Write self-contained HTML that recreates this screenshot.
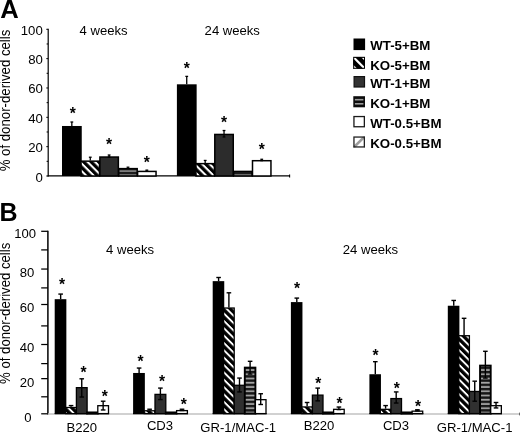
<!DOCTYPE html>
<html lang="en"><head><meta charset="utf-8"><title>Figure</title>
<style>
html,body{margin:0;padding:0;background:#fff;}
body{width:520px;height:433px;overflow:hidden;}
svg{display:block;will-change:transform;}
</style></head><body>
<svg width="520" height="433" viewBox="0 0 520 433" font-family="Liberation Sans, Arial, Helvetica, sans-serif" fill="#000">
<defs>
<pattern id="hatchA" width="5.3" height="5.3" patternUnits="userSpaceOnUse" patternTransform="translate(2,0) rotate(45)">
<rect width="5.3" height="5.3" fill="#000"/><rect width="5.3" height="2.05" fill="#fff"/></pattern>
<pattern id="hatchB" width="5.2" height="5.2" patternUnits="userSpaceOnUse" patternTransform="rotate(45)">
<rect width="5.2" height="5.2" fill="#000"/><rect width="5.2" height="1.9" fill="#fff"/></pattern>
<pattern id="hstr" width="4" height="4.25" patternUnits="userSpaceOnUse" patternTransform="translate(0,1.2)">
<rect width="4" height="4.25" fill="#161616"/><rect y="2.4" width="4" height="1.75" fill="#a6a6a6"/></pattern>
<pattern id="hstrA" width="4" height="4" patternUnits="userSpaceOnUse">
<rect width="4" height="4" fill="#1c1c1c"/><rect y="2.2" width="4" height="1.8" fill="#7c7c7c"/></pattern>
<pattern id="lhatch" width="4.5" height="4.5" patternUnits="userSpaceOnUse" patternTransform="rotate(-45)">
<rect width="4.5" height="4.5" fill="#fff"/><rect width="4.5" height="2" fill="#b0b0b0"/></pattern>
<clipPath id="sw2"><rect x="353.2" y="56.9" width="11.8" height="11.9"/></clipPath>
</defs>
<rect x="0.00" y="0.00" width="520.00" height="433.00" fill="#fff"/>
<text x="0.30" y="17.90" font-size="25.6" text-anchor="start" font-weight="bold" >A</text>
<text x="-0.60" y="220.60" font-size="25" text-anchor="start" font-weight="bold" >B</text>
<line x1="48.20" y1="28.80" x2="48.20" y2="176.50" stroke="#000" stroke-width="1.2"/>
<line x1="47.60" y1="175.80" x2="289.80" y2="175.80" stroke="#000" stroke-width="1.2"/>
<line x1="289.60" y1="174.50" x2="289.60" y2="177.50" stroke="#000" stroke-width="1.1"/>
<line x1="46.30" y1="176.00" x2="48.20" y2="176.00" stroke="#000" stroke-width="1.0"/>
<line x1="46.60" y1="161.33" x2="48.20" y2="161.33" stroke="#000" stroke-width="1.0"/>
<line x1="46.30" y1="146.66" x2="48.20" y2="146.66" stroke="#000" stroke-width="1.0"/>
<line x1="46.60" y1="131.99" x2="48.20" y2="131.99" stroke="#000" stroke-width="1.0"/>
<line x1="46.30" y1="117.32" x2="48.20" y2="117.32" stroke="#000" stroke-width="1.0"/>
<line x1="46.60" y1="102.65" x2="48.20" y2="102.65" stroke="#000" stroke-width="1.0"/>
<line x1="46.30" y1="87.98" x2="48.20" y2="87.98" stroke="#000" stroke-width="1.0"/>
<line x1="46.60" y1="73.31" x2="48.20" y2="73.31" stroke="#000" stroke-width="1.0"/>
<line x1="46.30" y1="58.64" x2="48.20" y2="58.64" stroke="#000" stroke-width="1.0"/>
<line x1="46.60" y1="43.97" x2="48.20" y2="43.97" stroke="#000" stroke-width="1.0"/>
<line x1="46.30" y1="29.30" x2="48.20" y2="29.30" stroke="#000" stroke-width="1.0"/>
<text x="42.80" y="181.50" font-size="13.2" text-anchor="end" font-weight="normal" >0</text>
<text x="42.80" y="152.16" font-size="13.2" text-anchor="end" font-weight="normal" >20</text>
<text x="42.80" y="122.82" font-size="13.2" text-anchor="end" font-weight="normal" >40</text>
<text x="42.80" y="93.48" font-size="13.2" text-anchor="end" font-weight="normal" >60</text>
<text x="42.80" y="64.14" font-size="13.2" text-anchor="end" font-weight="normal" >80</text>
<text x="42.80" y="34.80" font-size="13.2" text-anchor="end" font-weight="normal" >100</text>
<text transform="translate(9.9,171.3) rotate(-90) scale(1,1.12)" font-size="13.22">% of donor-derived cells</text>
<text x="79.60" y="35.30" font-size="13.1" text-anchor="start" font-weight="normal" >4 weeks</text>
<text x="204.60" y="35.30" font-size="13.1" text-anchor="start" font-weight="normal" >24 weeks</text>
<rect x="62.00" y="125.98" width="19.75" height="50.02" fill="#000"/>
<rect x="81.05" y="161.15" width="18.45" height="14.85" fill="url(#hatchA)" stroke="#000" stroke-width="1.5"/>
<rect x="99.90" y="157.04" width="18.45" height="18.96" fill="#2c2c2c" stroke="#000" stroke-width="1.5"/>
<rect x="118.75" y="168.63" width="18.45" height="7.37" fill="url(#hstrA)" stroke="#000" stroke-width="1.5"/>
<rect x="137.60" y="171.42" width="18.45" height="4.58" fill="#fff" stroke="#000" stroke-width="1.5"/>
<line x1="71.83" y1="122.01" x2="71.83" y2="125.98" stroke="#000" stroke-width="1.3"/>
<line x1="70.42" y1="122.01" x2="73.23" y2="122.01" stroke="#000" stroke-width="1.3"/>
<line x1="90.27" y1="157.22" x2="90.27" y2="160.45" stroke="#000" stroke-width="1.3"/>
<line x1="88.87" y1="157.22" x2="91.67" y2="157.22" stroke="#000" stroke-width="1.3"/>
<line x1="109.12" y1="155.02" x2="109.12" y2="157.08" stroke="#000" stroke-width="1.3"/>
<line x1="107.72" y1="155.02" x2="110.53" y2="155.02" stroke="#000" stroke-width="1.3"/>
<line x1="107.72" y1="157.08" x2="110.53" y2="157.08" stroke="#000" stroke-width="1.3"/>
<line x1="127.98" y1="167.20" x2="127.98" y2="167.93" stroke="#000" stroke-width="1.3"/>
<line x1="126.58" y1="167.20" x2="129.38" y2="167.20" stroke="#000" stroke-width="1.3"/>
<line x1="146.83" y1="170.13" x2="146.83" y2="171.16" stroke="#000" stroke-width="1.3"/>
<line x1="145.43" y1="170.13" x2="148.23" y2="170.13" stroke="#000" stroke-width="1.3"/>
<line x1="145.43" y1="171.16" x2="148.23" y2="171.16" stroke="#000" stroke-width="1.3"/>
<text x="72.83" y="119.35" font-size="15.6" text-anchor="middle" font-weight="bold">*</text>
<text x="109.12" y="150.35" font-size="15.6" text-anchor="middle" font-weight="bold">*</text>
<text x="146.83" y="167.95" font-size="15.6" text-anchor="middle" font-weight="bold">*</text>
<rect x="176.90" y="84.31" width="19.75" height="91.69" fill="#000"/>
<rect x="195.95" y="163.64" width="18.45" height="12.36" fill="url(#hatchA)" stroke="#000" stroke-width="1.5"/>
<rect x="214.80" y="134.45" width="18.45" height="41.55" fill="#2c2c2c" stroke="#000" stroke-width="1.5"/>
<rect x="233.65" y="171.42" width="18.45" height="4.58" fill="url(#hstrA)" stroke="#000" stroke-width="1.5"/>
<rect x="252.50" y="160.71" width="18.45" height="15.29" fill="#fff" stroke="#000" stroke-width="1.5"/>
<line x1="186.73" y1="76.39" x2="186.73" y2="84.31" stroke="#000" stroke-width="1.3"/>
<line x1="185.33" y1="76.39" x2="188.13" y2="76.39" stroke="#000" stroke-width="1.3"/>
<line x1="205.18" y1="160.45" x2="205.18" y2="162.94" stroke="#000" stroke-width="1.3"/>
<line x1="203.78" y1="160.45" x2="206.58" y2="160.45" stroke="#000" stroke-width="1.3"/>
<line x1="224.03" y1="130.52" x2="224.03" y2="136.98" stroke="#000" stroke-width="1.3"/>
<line x1="222.63" y1="130.52" x2="225.43" y2="130.52" stroke="#000" stroke-width="1.3"/>
<line x1="222.63" y1="136.98" x2="225.43" y2="136.98" stroke="#000" stroke-width="1.3"/>
<line x1="261.73" y1="159.28" x2="261.73" y2="160.60" stroke="#000" stroke-width="1.3"/>
<line x1="260.33" y1="159.28" x2="263.12" y2="159.28" stroke="#000" stroke-width="1.3"/>
<line x1="260.33" y1="160.60" x2="263.12" y2="160.60" stroke="#000" stroke-width="1.3"/>
<text x="186.73" y="74.35" font-size="15.6" text-anchor="middle" font-weight="bold">*</text>
<text x="224.03" y="127.55" font-size="15.6" text-anchor="middle" font-weight="bold">*</text>
<text x="261.73" y="155.15" font-size="15.6" text-anchor="middle" font-weight="bold">*</text>
<rect x="353.50" y="38.50" width="11.60" height="11.60" fill="#000"/>
<text x="370.20" y="50.10" font-size="13.3" text-anchor="start" font-weight="bold" >WT-5+BM</text>
<rect x="353.20" y="56.90" width="11.80" height="11.90" fill="#000"/>
<g clip-path="url(#sw2)" stroke="#fff" stroke-width="2.2"><line x1="352.6" y1="56.3" x2="365.6" y2="69.4"/><line x1="357.2" y1="51.7" x2="370.2" y2="64.8"/><line x1="348.0" y1="60.9" x2="361.0" y2="74.0"/></g>
<rect x="353.70" y="57.40" width="10.80" height="10.90" fill="none" stroke="#000" stroke-width="1.0"/>
<text x="370.20" y="69.60" font-size="13.3" text-anchor="start" font-weight="bold" >KO-5+BM</text>
<rect x="354.10" y="76.60" width="10.40" height="10.40" fill="#333" stroke="#111" stroke-width="1.2"/>
<text x="370.20" y="87.60" font-size="13.3" text-anchor="start" font-weight="bold" >WT-1+BM</text>
<rect x="353.30" y="96.20" width="11.70" height="11.10" fill="#0c0c0c"/>
<rect x="354.90" y="98.90" width="8.50" height="1.60" fill="#9a9a9a"/>
<rect x="354.90" y="103.00" width="8.50" height="1.60" fill="#9a9a9a"/>
<text x="370.20" y="108.00" font-size="13.3" text-anchor="start" font-weight="bold" >KO-1+BM</text>
<rect x="353.95" y="116.55" width="10.40" height="10.20" fill="#fff" stroke="#1a1a1a" stroke-width="1.3"/>
<text x="370.20" y="127.70" font-size="13.3" text-anchor="start" font-weight="bold" >WT-0.5+BM</text>
<clipPath id="sw6"><rect x="353.3" y="136.4" width="11.7" height="11.2"/></clipPath>
<rect x="353.30" y="136.40" width="11.70" height="11.20" fill="#fff"/>
<g clip-path="url(#sw6)" stroke="#9c9c9c" stroke-width="2.6"><line x1="352" y1="149.2" x2="366" y2="135.2"/><line x1="358.2" y1="155.4" x2="372.2" y2="141.4"/></g>
<rect x="353.95" y="137.05" width="10.40" height="9.90" fill="none" stroke="#222" stroke-width="1.3"/>
<text x="370.20" y="148.20" font-size="13.3" text-anchor="start" font-weight="bold" >KO-0.5+BM</text>
<line x1="47.90" y1="230.70" x2="47.90" y2="414.40" stroke="#000" stroke-width="1.5"/>
<line x1="41.20" y1="413.80" x2="47.90" y2="413.80" stroke="#000" stroke-width="1.25"/>
<line x1="41.20" y1="396.80" x2="47.90" y2="396.80" stroke="#000" stroke-width="1.25"/>
<line x1="41.20" y1="378.65" x2="47.90" y2="378.65" stroke="#000" stroke-width="1.25"/>
<line x1="41.20" y1="363.60" x2="47.90" y2="363.60" stroke="#000" stroke-width="1.25"/>
<line x1="41.20" y1="344.50" x2="47.90" y2="344.50" stroke="#000" stroke-width="1.25"/>
<line x1="41.20" y1="325.90" x2="47.90" y2="325.90" stroke="#000" stroke-width="1.25"/>
<line x1="41.20" y1="304.50" x2="47.90" y2="304.50" stroke="#000" stroke-width="1.25"/>
<line x1="41.20" y1="287.90" x2="47.90" y2="287.90" stroke="#000" stroke-width="1.25"/>
<line x1="41.20" y1="269.05" x2="47.90" y2="269.05" stroke="#000" stroke-width="1.25"/>
<line x1="41.20" y1="249.90" x2="47.90" y2="249.90" stroke="#000" stroke-width="1.25"/>
<line x1="41.20" y1="231.30" x2="47.90" y2="231.30" stroke="#000" stroke-width="1.25"/>
<text x="36.00" y="238.45" font-size="13.1" text-anchor="end" font-weight="normal" >100</text>
<text x="34.30" y="277.35" font-size="13.1" text-anchor="end" font-weight="normal" >80</text>
<text x="34.30" y="311.75" font-size="13.1" text-anchor="end" font-weight="normal" >60</text>
<text x="34.30" y="352.05" font-size="13.1" text-anchor="end" font-weight="normal" >40</text>
<text x="34.30" y="386.95" font-size="13.1" text-anchor="end" font-weight="normal" >20</text>
<text x="31.60" y="421.55" font-size="13.1" text-anchor="end" font-weight="normal" >0</text>
<line x1="47.90" y1="414.00" x2="520.00" y2="414.00" stroke="#c2c2c2" stroke-width="1.3"/>
<text transform="translate(10.1,383.9) rotate(-90) scale(1,1.12)" font-size="13.17">% of donor-derived cells</text>
<text x="106.00" y="254.30" font-size="13.1" text-anchor="start" font-weight="normal" >4 weeks</text>
<text x="342.80" y="254.30" font-size="13.1" text-anchor="start" font-weight="normal" >24 weeks</text>
<line x1="54.70" y1="413.70" x2="109.10" y2="413.70" stroke="#000" stroke-width="1.2"/>
<rect x="54.70" y="299.18" width="11.65" height="114.82" fill="#000"/>
<rect x="65.70" y="407.51" width="10.70" height="6.09" fill="url(#hatchB)" stroke="#000" stroke-width="1.3"/>
<rect x="76.40" y="387.65" width="10.70" height="25.95" fill="#303030" stroke="#000" stroke-width="1.3"/>
<rect x="87.10" y="412.43" width="10.70" height="1.17" fill="url(#hstr)" stroke="#000" stroke-width="1.9"/>
<rect x="97.80" y="405.69" width="10.70" height="7.91" fill="#fff" stroke="#000" stroke-width="1.3"/>
<line x1="60.65" y1="294.08" x2="60.65" y2="299.18" stroke="#000" stroke-width="1.4"/>
<line x1="58.35" y1="294.08" x2="62.95" y2="294.08" stroke="#000" stroke-width="1.4"/>
<line x1="71.05" y1="405.58" x2="71.05" y2="406.86" stroke="#000" stroke-width="1.4"/>
<line x1="68.75" y1="405.58" x2="73.35" y2="405.58" stroke="#000" stroke-width="1.4"/>
<line x1="81.75" y1="378.80" x2="81.75" y2="397.02" stroke="#000" stroke-width="1.4"/>
<line x1="79.45" y1="378.80" x2="84.05" y2="378.80" stroke="#000" stroke-width="1.4"/>
<line x1="79.45" y1="397.02" x2="84.05" y2="397.02" stroke="#000" stroke-width="1.4"/>
<line x1="103.15" y1="401.21" x2="103.15" y2="409.96" stroke="#000" stroke-width="1.4"/>
<line x1="100.85" y1="401.21" x2="105.45" y2="401.21" stroke="#000" stroke-width="1.4"/>
<line x1="100.85" y1="409.96" x2="105.45" y2="409.96" stroke="#000" stroke-width="1.4"/>
<text x="62.05" y="290.25" font-size="15.6" text-anchor="middle" font-weight="bold">*</text>
<text x="83.45" y="378.05" font-size="15.6" text-anchor="middle" font-weight="bold">*</text>
<text x="104.85" y="401.55" font-size="15.6" text-anchor="middle" font-weight="bold">*</text>
<text x="81.80" y="432.20" font-size="13.1" text-anchor="middle" font-weight="normal" >B220</text>
<line x1="133.10" y1="413.70" x2="188.00" y2="413.70" stroke="#000" stroke-width="1.2"/>
<rect x="133.10" y="372.97" width="11.75" height="41.03" fill="#000"/>
<rect x="144.20" y="410.79" width="10.80" height="2.81" fill="url(#hatchB)" stroke="#000" stroke-width="1.3"/>
<rect x="155.00" y="394.39" width="10.80" height="19.21" fill="#303030" stroke="#000" stroke-width="1.3"/>
<rect x="165.80" y="412.43" width="10.80" height="1.17" fill="url(#hstr)" stroke="#000" stroke-width="1.9"/>
<rect x="176.60" y="410.61" width="10.80" height="2.99" fill="#fff" stroke="#000" stroke-width="1.3"/>
<line x1="139.10" y1="368.05" x2="139.10" y2="372.97" stroke="#000" stroke-width="1.4"/>
<line x1="136.80" y1="368.05" x2="141.40" y2="368.05" stroke="#000" stroke-width="1.4"/>
<line x1="149.60" y1="409.23" x2="149.60" y2="410.14" stroke="#000" stroke-width="1.4"/>
<line x1="147.30" y1="409.23" x2="151.90" y2="409.23" stroke="#000" stroke-width="1.4"/>
<line x1="160.40" y1="388.09" x2="160.40" y2="399.57" stroke="#000" stroke-width="1.4"/>
<line x1="158.10" y1="388.09" x2="162.70" y2="388.09" stroke="#000" stroke-width="1.4"/>
<line x1="158.10" y1="399.57" x2="162.70" y2="399.57" stroke="#000" stroke-width="1.4"/>
<line x1="182.00" y1="409.23" x2="182.00" y2="410.50" stroke="#000" stroke-width="1.4"/>
<line x1="179.70" y1="409.23" x2="184.30" y2="409.23" stroke="#000" stroke-width="1.4"/>
<line x1="179.70" y1="410.50" x2="184.30" y2="410.50" stroke="#000" stroke-width="1.4"/>
<text x="140.50" y="367.35" font-size="15.6" text-anchor="middle" font-weight="bold">*</text>
<text x="162.10" y="386.55" font-size="15.6" text-anchor="middle" font-weight="bold">*</text>
<text x="183.70" y="410.05" font-size="15.6" text-anchor="middle" font-weight="bold">*</text>
<text x="160.00" y="429.80" font-size="13.1" text-anchor="middle" font-weight="normal" >CD3</text>
<line x1="212.70" y1="413.70" x2="266.60" y2="413.70" stroke="#000" stroke-width="1.2"/>
<rect x="212.70" y="281.14" width="11.55" height="132.86" fill="#000"/>
<rect x="223.60" y="308.03" width="10.60" height="105.57" fill="url(#hatchB)" stroke="#000" stroke-width="1.3"/>
<rect x="234.20" y="385.28" width="10.60" height="28.32" fill="#303030" stroke="#000" stroke-width="1.3"/>
<rect x="244.80" y="367.61" width="10.60" height="45.99" fill="url(#hstr)" stroke="#000" stroke-width="1.9"/>
<rect x="255.40" y="399.67" width="10.60" height="13.93" fill="#fff" stroke="#000" stroke-width="1.3"/>
<line x1="218.60" y1="277.50" x2="218.60" y2="281.14" stroke="#000" stroke-width="1.4"/>
<line x1="216.30" y1="277.50" x2="220.90" y2="277.50" stroke="#000" stroke-width="1.4"/>
<line x1="228.90" y1="292.80" x2="228.90" y2="307.38" stroke="#000" stroke-width="1.4"/>
<line x1="226.60" y1="292.80" x2="231.20" y2="292.80" stroke="#000" stroke-width="1.4"/>
<line x1="239.50" y1="378.07" x2="239.50" y2="391.92" stroke="#000" stroke-width="1.4"/>
<line x1="237.20" y1="378.07" x2="241.80" y2="378.07" stroke="#000" stroke-width="1.4"/>
<line x1="237.20" y1="391.92" x2="241.80" y2="391.92" stroke="#000" stroke-width="1.4"/>
<line x1="250.10" y1="361.31" x2="250.10" y2="374.06" stroke="#000" stroke-width="1.4"/>
<line x1="247.80" y1="361.31" x2="252.40" y2="361.31" stroke="#000" stroke-width="1.4"/>
<line x1="247.80" y1="374.06" x2="252.40" y2="374.06" stroke="#000" stroke-width="1.4"/>
<line x1="260.70" y1="393.74" x2="260.70" y2="404.49" stroke="#000" stroke-width="1.4"/>
<line x1="258.40" y1="393.74" x2="263.00" y2="393.74" stroke="#000" stroke-width="1.4"/>
<line x1="258.40" y1="404.49" x2="263.00" y2="404.49" stroke="#000" stroke-width="1.4"/>
<text x="238.20" y="432.20" font-size="13.1" text-anchor="middle" font-weight="normal" >GR-1/MAC-1</text>
<line x1="290.90" y1="413.70" x2="344.80" y2="413.70" stroke="#000" stroke-width="1.2"/>
<rect x="290.90" y="302.09" width="11.55" height="111.91" fill="#000"/>
<rect x="301.80" y="406.96" width="10.60" height="6.64" fill="url(#hatchB)" stroke="#000" stroke-width="1.3"/>
<rect x="312.40" y="395.12" width="10.60" height="18.48" fill="#303030" stroke="#000" stroke-width="1.3"/>
<rect x="323.00" y="412.43" width="10.60" height="1.17" fill="url(#hstr)" stroke="#000" stroke-width="1.9"/>
<rect x="333.60" y="409.33" width="10.60" height="4.27" fill="#fff" stroke="#000" stroke-width="1.3"/>
<line x1="296.80" y1="298.09" x2="296.80" y2="302.09" stroke="#000" stroke-width="1.4"/>
<line x1="294.50" y1="298.09" x2="299.10" y2="298.09" stroke="#000" stroke-width="1.4"/>
<line x1="307.10" y1="402.49" x2="307.10" y2="406.31" stroke="#000" stroke-width="1.4"/>
<line x1="304.80" y1="402.49" x2="309.40" y2="402.49" stroke="#000" stroke-width="1.4"/>
<line x1="317.70" y1="388.09" x2="317.70" y2="400.85" stroke="#000" stroke-width="1.4"/>
<line x1="315.40" y1="388.09" x2="320.00" y2="388.09" stroke="#000" stroke-width="1.4"/>
<line x1="315.40" y1="400.85" x2="320.00" y2="400.85" stroke="#000" stroke-width="1.4"/>
<line x1="338.90" y1="407.04" x2="338.90" y2="409.59" stroke="#000" stroke-width="1.4"/>
<line x1="336.60" y1="407.04" x2="341.20" y2="407.04" stroke="#000" stroke-width="1.4"/>
<line x1="336.60" y1="409.59" x2="341.20" y2="409.59" stroke="#000" stroke-width="1.4"/>
<text x="297.10" y="294.35" font-size="15.6" text-anchor="middle" font-weight="bold">*</text>
<text x="318.30" y="389.05" font-size="15.6" text-anchor="middle" font-weight="bold">*</text>
<text x="339.50" y="409.05" font-size="15.6" text-anchor="middle" font-weight="bold">*</text>
<text x="319.00" y="429.70" font-size="13.1" text-anchor="middle" font-weight="normal" >B220</text>
<line x1="369.40" y1="413.70" x2="423.30" y2="413.70" stroke="#000" stroke-width="1.2"/>
<rect x="369.40" y="374.24" width="11.55" height="39.76" fill="#000"/>
<rect x="380.30" y="409.33" width="10.60" height="4.27" fill="url(#hatchB)" stroke="#000" stroke-width="1.3"/>
<rect x="390.90" y="398.58" width="10.60" height="15.02" fill="#303030" stroke="#000" stroke-width="1.3"/>
<rect x="401.50" y="412.43" width="10.60" height="1.17" fill="url(#hstr)" stroke="#000" stroke-width="1.9"/>
<rect x="412.10" y="411.15" width="10.60" height="2.45" fill="#fff" stroke="#000" stroke-width="1.3"/>
<line x1="375.30" y1="361.67" x2="375.30" y2="374.24" stroke="#000" stroke-width="1.4"/>
<line x1="373.00" y1="361.67" x2="377.60" y2="361.67" stroke="#000" stroke-width="1.4"/>
<line x1="385.60" y1="405.58" x2="385.60" y2="408.68" stroke="#000" stroke-width="1.4"/>
<line x1="383.30" y1="405.58" x2="387.90" y2="405.58" stroke="#000" stroke-width="1.4"/>
<line x1="396.20" y1="391.92" x2="396.20" y2="403.03" stroke="#000" stroke-width="1.4"/>
<line x1="393.90" y1="391.92" x2="398.50" y2="391.92" stroke="#000" stroke-width="1.4"/>
<line x1="393.90" y1="403.03" x2="398.50" y2="403.03" stroke="#000" stroke-width="1.4"/>
<line x1="417.40" y1="409.77" x2="417.40" y2="410.87" stroke="#000" stroke-width="1.4"/>
<line x1="415.10" y1="409.77" x2="419.70" y2="409.77" stroke="#000" stroke-width="1.4"/>
<line x1="415.10" y1="410.87" x2="419.70" y2="410.87" stroke="#000" stroke-width="1.4"/>
<text x="375.60" y="361.05" font-size="15.6" text-anchor="middle" font-weight="bold">*</text>
<text x="396.80" y="393.85" font-size="15.6" text-anchor="middle" font-weight="bold">*</text>
<text x="418.00" y="411.55" font-size="15.6" text-anchor="middle" font-weight="bold">*</text>
<text x="396.00" y="429.70" font-size="13.1" text-anchor="middle" font-weight="normal" >CD3</text>
<line x1="447.80" y1="413.70" x2="501.95" y2="413.70" stroke="#000" stroke-width="1.2"/>
<rect x="447.80" y="305.74" width="11.60" height="108.26" fill="#000"/>
<rect x="458.75" y="335.72" width="10.65" height="77.88" fill="url(#hatchB)" stroke="#000" stroke-width="1.3"/>
<rect x="469.40" y="391.48" width="10.65" height="22.12" fill="#303030" stroke="#000" stroke-width="1.3"/>
<rect x="480.05" y="365.60" width="10.65" height="48.00" fill="url(#hstr)" stroke="#000" stroke-width="1.9"/>
<rect x="490.70" y="405.69" width="10.65" height="7.91" fill="#fff" stroke="#000" stroke-width="1.3"/>
<line x1="453.73" y1="300.45" x2="453.73" y2="305.74" stroke="#000" stroke-width="1.4"/>
<line x1="451.43" y1="300.45" x2="456.03" y2="300.45" stroke="#000" stroke-width="1.4"/>
<line x1="464.07" y1="318.31" x2="464.07" y2="335.07" stroke="#000" stroke-width="1.4"/>
<line x1="461.77" y1="318.31" x2="466.38" y2="318.31" stroke="#000" stroke-width="1.4"/>
<line x1="474.73" y1="381.17" x2="474.73" y2="401.21" stroke="#000" stroke-width="1.4"/>
<line x1="472.43" y1="381.17" x2="477.03" y2="381.17" stroke="#000" stroke-width="1.4"/>
<line x1="472.43" y1="401.21" x2="477.03" y2="401.21" stroke="#000" stroke-width="1.4"/>
<line x1="485.38" y1="351.29" x2="485.38" y2="378.07" stroke="#000" stroke-width="1.4"/>
<line x1="483.07" y1="351.29" x2="487.68" y2="351.29" stroke="#000" stroke-width="1.4"/>
<line x1="483.07" y1="378.07" x2="487.68" y2="378.07" stroke="#000" stroke-width="1.4"/>
<line x1="496.03" y1="402.49" x2="496.03" y2="407.95" stroke="#000" stroke-width="1.4"/>
<line x1="493.73" y1="402.49" x2="498.33" y2="402.49" stroke="#000" stroke-width="1.4"/>
<line x1="493.73" y1="407.95" x2="498.33" y2="407.95" stroke="#000" stroke-width="1.4"/>
<text x="474.60" y="432.40" font-size="13.1" text-anchor="middle" font-weight="normal" >GR-1/MAC-1</text>
<line x1="519.60" y1="412.60" x2="519.60" y2="415.40" stroke="#555" stroke-width="0.9"/>
</svg>
</body></html>
